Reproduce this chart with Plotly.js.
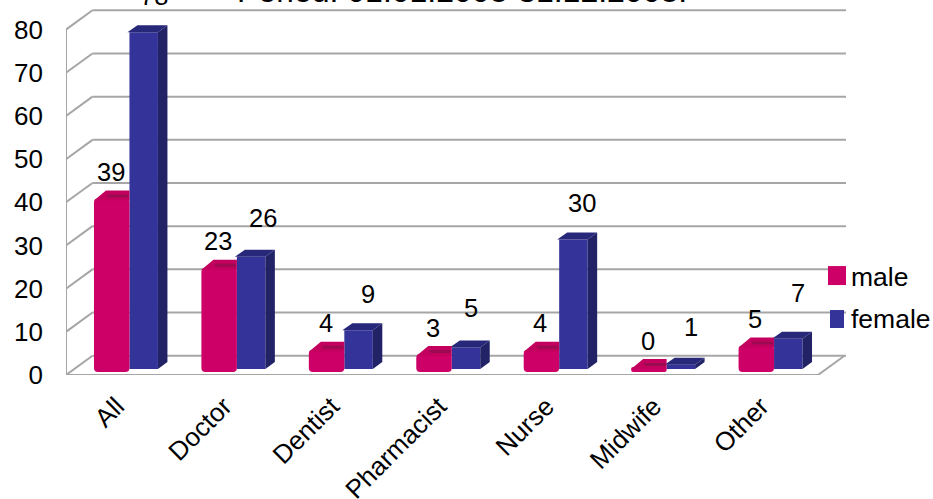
<!DOCTYPE html>
<html>
<head>
<meta charset="utf-8">
<script src="https://cdn.plot.ly/plotly-3.0.1.min.js"></script>
<style>html,body{margin:0;padding:0;background:#fff;overflow:hidden}</style>
</head>
<body>
<div id="chart" style="width:933px;height:499px"></div>
<script>
const categories = ["All","Doctor","Dentist","Pharmacist","Nurse","Midwife","Other"];
const male = [39,23,4,3,4,0,5];
const female = [78,26,9,5,30,1,7];
const yTicks = [0,10,20,30,40,50,60,70,80];
const seriesNames = ["male","female"];

const titleText = "Period: 01.01.2008-31.12.2008.";

// geometry of the pseudo-3D look, in axis units
const PX_X = 107.5, PX_Y = 4.32;
const px = p => p / PX_X, py = p => p / PX_Y;
const backDX = px(26.5), backDY = py(19.3);
const xMin = -0.5, xMax = -0.5 + 780.5 / PX_X, yMax = 85;
const frontEnd = 6.5;

const maleBase = py(3), maleBevel = py(5), maleOffset = px(-25.75), maleWidth = px(35.5);
const femaleBase = py(6), femaleOffset = px(9.75), femaleWidth = px(28.5);

const RED = "#cc0066", RED_TOP = "#c4005f", RED_DARK = "#9c0a52";
const BLUE = "#333399", BLUE_SIDE = "#222266", BLUE_TOP = "#28287a";
const GRID = "#a6a6a6", FONT = "Liberation Sans, Arial, sans-serif";

function polys(list) {
  const xs = [], ys = [];
  list.forEach(p => { p.forEach(q => { xs.push(q[0]); ys.push(q[1]); }); xs.push(p[0][0]); ys.push(p[0][1]); xs.push(null); ys.push(null); });
  return {xs, ys};
}
function polyTrace(list, color) {
  const {xs, ys} = polys(list);
  return {type:"scatter", mode:"lines", x:xs, y:ys, fill:"toself", fillcolor:color,
          line:{width:0,color:color}, hoverinfo:"skip", showlegend:false};
}

const fSide = [], fTop = [], mTop = [], mStrip = [];
categories.forEach((c, i) => {
  const fx0 = i + femaleOffset, fx1 = fx0 + femaleWidth, ft = femaleBase + female[i];
  const d = px(9.5), h = py(7);
  fSide.push([[fx1,femaleBase],[fx1+d,femaleBase+h],[fx1+d,ft+h],[fx1,ft]]);
  fTop.push([[fx0-px(2),ft],[fx0+px(8),ft+h],[fx1+d,ft+h],[fx1,ft]]);
  const mx0 = i + maleOffset, mx1 = mx0 + maleWidth, mt = maleBase + maleBevel + male[i] - py(2);
  const md = px(12), mh = py(10);
  mTop.push([[mx0,mt],[mx0+md,mt+mh],[mx1,mt+mh],[mx1,mt]]);
  mStrip.push([[mx0+px(14),mt+py(3)],[mx0+px(13),mt+py(6)],[mx1-px(1),mt+py(6)],[mx1-px(1),mt+py(3)]]);
});

const traces = [
  {type:"bar", name:seriesNames[1], x:categories.map((c,i)=>i), y:female, base:femaleBase, offset:femaleOffset, width:femaleWidth,
   marker:{color:BLUE,line:{width:0}}, showlegend:false, hoverinfo:"y"},
  {type:"bar", name:seriesNames[0], x:categories.map((c,i)=>i), y:male.map(v=>v+maleBevel), base:maleBase, offset:maleOffset, width:maleWidth,
   marker:{color:RED,line:{width:0},cornerradius:4}, showlegend:false, hoverinfo:"y"},
  polyTrace(fSide, BLUE_SIDE),
  polyTrace(fTop, BLUE_TOP),
  polyTrace(mTop, RED_TOP),
  polyTrace(mStrip, RED_DARK)
];

const PLOT_L = 65.5, PLOT_W = 780.5, PLOT_BOTTOM = 375, PLOT_H = 367.2;
const paperX = p => (p - PLOT_L) / PLOT_W;
const paperY = p => (PLOT_BOTTOM - p) / PLOT_H;

const shapes = [];
function line(x0,y0,x1,y1){ shapes.push({type:"line",xref:"x",yref:"y",x0,y0,x1,y1,layer:"below",line:{color:GRID,width:2}}); }
yTicks.forEach(t => {
  line(xMin+backDX, t+backDY, xMax, t+backDY);
  line(xMin, t, xMin+backDX, t+backDY);
});
line(xMin, 0, xMin, 80);
line(xMin, 0, frontEnd, 0);
line(frontEnd, 0, frontEnd+backDX, backDY);

// legend keys
shapes.push({type:"rect",xref:"paper",yref:"paper",x0:paperX(828),x1:paperX(846),y0:paperY(285),y1:paperY(266),fillcolor:RED,line:{width:0}});
shapes.push({type:"rect",xref:"paper",yref:"paper",x0:paperX(830),x1:paperX(844),y0:paperY(328),y1:paperY(310),fillcolor:BLUE,line:{width:0}});

const maleLift = 18.5;
const femaleLift = [26,29,26,29,26,28,36];
const femaleShift = [34,36,33,29,33,34,34];
const LABEL = 25.5;
const annotations = [];
categories.forEach((c,i) => {
  annotations.push({x:i,y:male[i],xref:"x",yref:"y",text:String(male[i]),showarrow:false,xanchor:"center",yanchor:"bottom",xshift:-9,yshift:maleLift,font:{size:LABEL,color:"#000",family:FONT}});
  annotations.push({x:i,y:female[i],xref:"x",yref:"y",text:String(female[i]),showarrow:false,xanchor:"center",yanchor:"bottom",xshift:femaleShift[i],yshift:femaleLift[i],font:{size:LABEL,color:"#000",family:FONT}});
});
annotations.push({xref:"paper",yref:"paper",x:paperX(462),y:paperY(11),text:titleText,showarrow:false,xanchor:"center",yanchor:"bottom",font:{size:32,color:"#000",family:FONT}});
annotations.push({xref:"paper",yref:"paper",x:paperX(849),y:paperY(276.5),text:seriesNames[0],showarrow:false,xanchor:"left",yanchor:"middle",font:{size:26.5,color:"#000",family:FONT}});
annotations.push({xref:"paper",yref:"paper",x:paperX(849),y:paperY(319),text:seriesNames[1],showarrow:false,xanchor:"left",yanchor:"middle",font:{size:26.5,color:"#000",family:FONT}});

const layout = {
  width:933, height:499, autosize:false,
  margin:{l:PLOT_L,r:933-PLOT_L-PLOT_W,t:PLOT_BOTTOM-PLOT_H,b:499-PLOT_BOTTOM,pad:0},
  paper_bgcolor:"#fff", plot_bgcolor:"rgba(0,0,0,0)",
  font:{family:FONT,size:25,color:"#000"},
  barmode:"overlay", showlegend:false,
  xaxis:{range:[xMin,xMax],tickmode:"array",tickvals:categories.map((c,i)=>i),ticktext:categories,tickangle:-45,showgrid:false,zeroline:false,showline:false,ticks:"",ticklabelstandoff:10,ticklabelshift:-3,tickfont:{size:26,family:FONT,color:"#000"},automargin:false},
  yaxis:{range:[0,yMax],tickmode:"array",tickvals:yTicks,showgrid:false,zeroline:false,showline:false,ticks:"",ticklabelstandoff:22,tickfont:{size:26,family:FONT,color:"#000"},automargin:false},
  shapes, annotations
};
Plotly.newPlot("chart", traces, layout, {displayModeBar:false,staticPlot:true});
</script>
</body>
</html>
